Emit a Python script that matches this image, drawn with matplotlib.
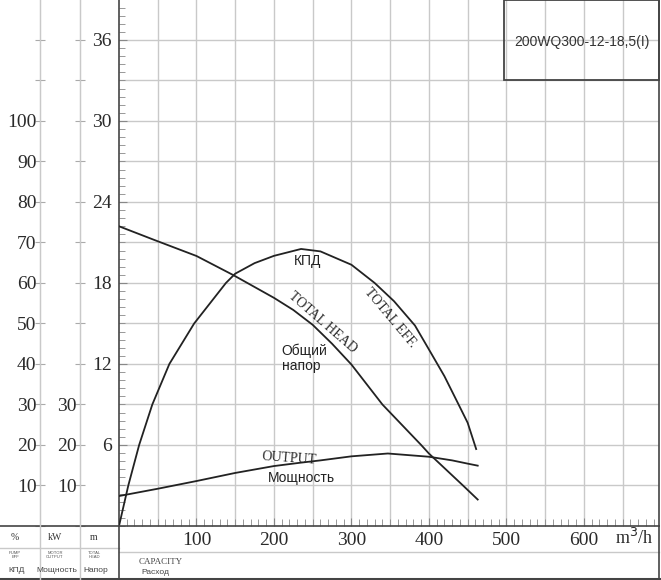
import matplotlib
matplotlib.use("Agg")
import matplotlib.pyplot as plt
from matplotlib.lines import Line2D
from matplotlib.patches import Rectangle
from matplotlib.ticker import MultipleLocator, FixedLocator, FuncFormatter

# capacity Q (m3/h) and the three curves
head_q = [0, 45, 100, 147, 200, 225, 250, 275, 300, 340, 350, 390, 400, 444, 463]
head_m = [22.2, 21.2, 20.0, 18.6, 16.9, 16.0, 14.9, 13.5, 11.96, 9.0, 8.4, 6.0, 5.37, 3.0, 1.96]

eff_q = [0, 12, 26, 43, 65, 97, 138, 150, 175, 200, 235, 260, 300, 330, 355, 382, 400, 420, 437, 450, 461]
eff_pct = [0, 10, 20, 30, 40, 50, 60, 62.3, 64.9, 66.7, 68.4, 67.8, 64.5, 60.0, 55.5, 49.5, 43.6, 37, 30.5, 25.5, 19]

pow_q = [0, 50, 100, 150, 200, 233, 260, 300, 347, 400, 430, 450, 463]
pow_kw = [7.4, 9.2, 11.1, 13.1, 14.8, 15.6, 16.2, 17.2, 17.9, 17.1, 16.2, 15.4, 14.9]

x_ticks = [100, 200, 300, 400, 500, 600]
head_ticks = [6, 12, 18, 24, 30, 36]
eff_ticks = [10, 20, 30, 40, 50, 60, 70, 80, 90, 100]
kw_ticks = [10, 20, 30]
model = "200WQ300-12-18,5(I)"

W, H = 661, 580
serif = "Liberation Serif"
sans = "Liberation Sans"
grid_c = "#c9c9c9"
dark = "#444444"
ink = "#222222"

fig = plt.figure(figsize=(W / 100, H / 100), dpi=100)

# pixel -> figure fraction helpers
def fx(px):
    return px / W
def fy(py):
    return 1 - py / H

x0, x1, ybot = 119, 659, 526
ax = fig.add_axes([fx(x0), fy(ybot), fx(x1) - fx(x0), 1 - fy(ybot)])
ymax = 38.96
ax.set_xlim(0, 697)
ax.set_ylim(0, ymax)

# grid every 50 m3/h and every 3 m
ax.xaxis.set_major_locator(FixedLocator(x_ticks))
ax.xaxis.set_minor_locator(MultipleLocator(10))
for v in range(50, 697, 50):
    ax.axvline(v, color=grid_c, lw=1, zorder=0)
for v in range(3, 39, 3):
    ax.axhline(v, color=grid_c, lw=1, zorder=0)

ax.yaxis.set_major_locator(FixedLocator(head_ticks))
ax.yaxis.set_minor_locator(MultipleLocator(0.6))
ax.tick_params(axis="both", which="both", direction="in", color="#888888")
ax.tick_params(axis="x", which="major", length=6, pad=4, labelsize=14, labelcolor="#2a2a2a")
ax.tick_params(axis="x", which="minor", length=5)
ax.tick_params(axis="y", which="major", length=6, pad=5, labelsize=14, labelcolor="#2a2a2a")
ax.tick_params(axis="y", which="minor", length=4)
for lab in ax.get_xticklabels() + ax.get_yticklabels():
    lab.set_family(serif)
ax.spines["top"].set_visible(False)
for s in ["left", "bottom", "right"]:
    ax.spines[s].set_color(dark)
    ax.spines[s].set_linewidth(1.2)

# efficiency (%) and power (kW) scales on their own axes at the left
def side_axis(offset_px, ticks):
    a = ax.twinx()
    a.set_ylim(0, ymax * 10 / 3)
    a.yaxis.set_ticks_position("left")
    a.yaxis.set_label_position("left")
    a.spines["left"].set_position(("axes", (offset_px - x0) / (x1 - x0)))
    a.spines["left"].set_color(grid_c)
    for s in ["top", "right", "bottom"]:
        a.spines[s].set_visible(False)
    a.yaxis.set_major_locator(MultipleLocator(10))
    a.yaxis.set_major_formatter(FuncFormatter(lambda v, p: "%d" % v if round(v) in ticks else ""))
    a.tick_params(axis="y", direction="inout", length=7, color="#aaaaaa", pad=-1,
                  labelsize=14, labelcolor="#2a2a2a")
    for lab in a.get_yticklabels():
        lab.set_family(serif)
    return a

ax_eff = side_axis(40, eff_ticks)
ax_kw = side_axis(80, kw_ticks)

# curves
ax.plot(head_q, head_m, color=ink, lw=1.3, zorder=3)
ax_eff.plot(eff_q, eff_pct, color=ink, lw=1.3, zorder=3)
ax_kw.plot(pow_q, pow_kw, color=ink, lw=1.3, zorder=3)

# curve labels
ax.text(244, 19.6, "КПД", family=sans, fontsize=10, ha="center", va="center", color=ink)
ax.text(263, 15.1, "TOTAL HEAD", family=serif, fontsize=10, rotation=-41,
        ha="center", va="center", color="#2a2a2a")
ax.text(350, 15.4, "TOTAL EFF.", family=serif, fontsize=10, rotation=-50,
        ha="center", va="center", color="#2a2a2a")
ax.text(210, 12.4, "Общий\nнапор", family=sans, fontsize=10, ha="left", va="center",
        linespacing=1.1, color=ink)
ax.text(219, 5.0, "OUTPUT", family=serif, fontsize=10, rotation=-4,
        ha="center", va="center", color="#2a2a2a")
ax.text(236, 3.55, "Мощность", family=sans, fontsize=10, ha="center", va="center", color=ink)

# model box in the top right corner
fig.patches.append(Rectangle((fx(504), fy(80)), fx(659) - fx(504), fy(0) - fy(80),
                             transform=fig.transFigure, fill=False, ec=dark, lw=1.3))
fig.text(fx(581.5), fy(42), model, family=sans, fontsize=10, ha="center", va="center",
         color="#333333")

# frame lines of the table at the bottom
def hline(py, xa, xb, c, lw):
    fig.add_artist(Line2D([fx(xa), fx(xb)], [fy(py), fy(py)], color=c, lw=lw))
def vline(px, ya, yb, c, lw):
    fig.add_artist(Line2D([fx(px), fx(px)], [fy(ya), fy(yb)], color=c, lw=lw))

hline(526, 0, x0, dark, 1.2)
hline(548, 0, x0, grid_c, 1)
hline(552, x0, x1, grid_c, 1)
hline(578.5, 0, W, dark, 2.2)
vline(40, 0, 580, grid_c, 1)
vline(80, 0, 580, grid_c, 1)
vline(x0, 526, 580, dark, 1.2)
vline(x1, 526, 580, dark, 1.2)

# table captions
for px, unit, small, ru in [(15, "%", "PUMP\nEFF", "КПД"),
                            (55, "kW", "MOTOR\nOUTPUT", "Мощность"),
                            (94, "m", "TOTAL\nHEAD", "Напор")]:
    fig.text(fx(px), fy(537), unit, family=serif, fontsize=7, ha="center", va="center", color="#333333")
    fig.text(fx(px), fy(555), small, family=sans, fontsize=3, ha="center", va="center",
             linespacing=1.0, color="#555555")
    fig.text(fx(px + 2), fy(571), ru, family=sans, fontsize=6, ha="center", va="center", color="#444444")
fig.text(fx(139), fy(562), "CAPACITY", family=serif, fontsize=6.5, ha="left", va="center", color="#444444")
fig.text(fx(141), fy(572), "Расход", family=sans, fontsize=6, ha="left", va="center", color="#444444")
fig.text(fx(634), fy(538), "m$^3$/h", family=serif, fontsize=13, ha="center", va="center", color="#2a2a2a")

fig.savefig("out.png", dpi=100)
